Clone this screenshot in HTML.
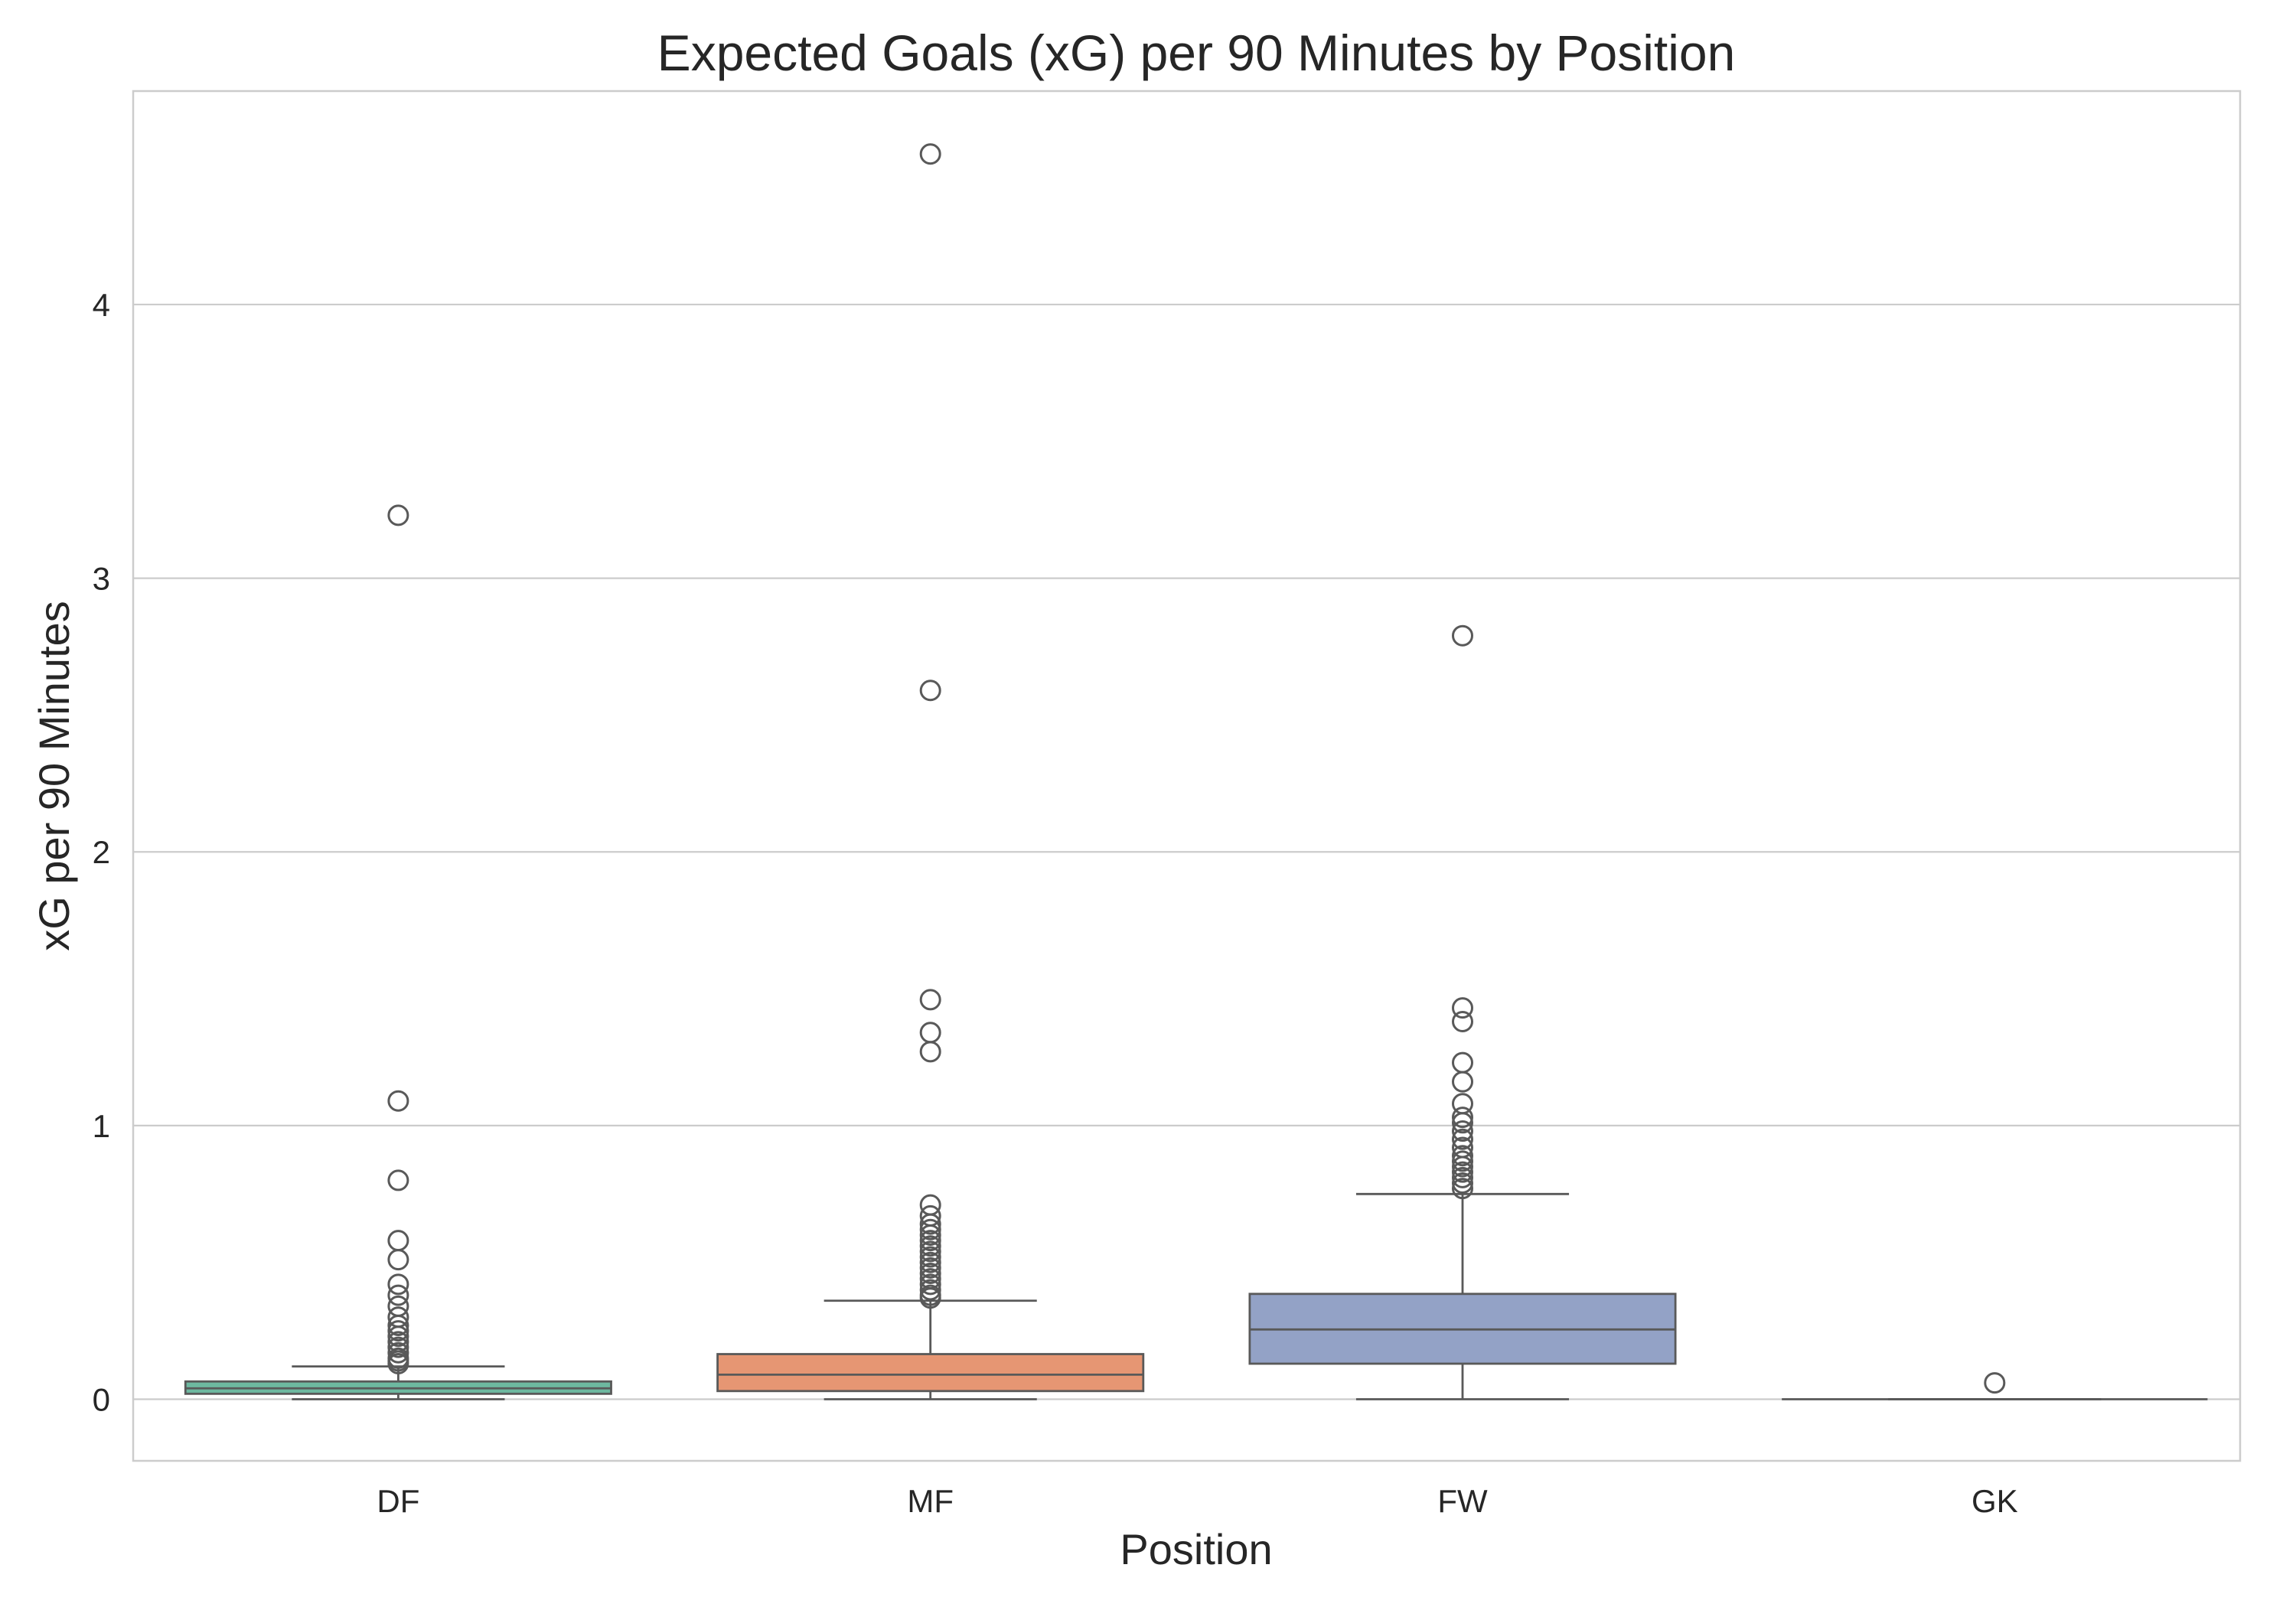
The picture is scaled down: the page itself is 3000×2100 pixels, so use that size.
<!DOCTYPE html>
<html><head><meta charset="utf-8"><style>
html,body{margin:0;padding:0;background:#fff;}
svg{display:block;font-family:"Liberation Sans",Arial,sans-serif;}
</style></head><body>
<svg id="chart" width="3000" height="2100" viewBox="0 0 3000 2100" xmlns="http://www.w3.org/2000/svg">
<rect width="3000" height="2100" fill="#fff"/>
<g id="grid"></g>
<g id="boxes"></g>
<g id="axes"></g>
</svg>
<script>
const categories = ["DF","MF","FW","GK"];
const colors = ["#6db8a0","#e69673","#93a2c6","#d98fb9"];
const q1 = [0.02, 0.03, 0.13, 0];
const medians = [0.04, 0.09, 0.255, 0];
const q3 = [0.065, 0.165, 0.385, 0];
const whiskLow = [0, 0, 0, 0];
const whiskHigh = [0.12, 0.36, 0.75, 0];
const outliersDF = [3.23,1.09,0.80,0.58,0.51,0.42,0.38,0.34,0.30,0.27,0.25,0.23,0.21,0.19,0.17,0.15,0.14,0.13];
const outliersMF = [4.55,2.59,1.46,1.34,1.27,0.71,0.67,0.64,0.62,0.60,0.58,0.56,0.54,0.52,0.50,0.48,0.46,0.44,0.42,0.40,0.38,0.37];
const outliersFW = [2.79,1.43,1.38,1.23,1.16,1.08,1.03,1.01,0.98,0.95,0.92,0.89,0.87,0.85,0.83,0.81,0.79,0.77];
const outliersGK = [0.06];
const yTicks = [0,1,2,3,4];

const outliers = [outliersDF, outliersMF, outliersFW, outliersGK];
const L=174, R=2927, T=119, B=1909;
const yMin=-0.225, yMax=4.78;
const NS="http://www.w3.org/2000/svg";
function y(v){return B-(v-yMin)/(yMax-yMin)*(B-T);}
const band=695.3, x0=520.4;
function x(i){return x0+band*i;}
function mk(tag,attrs,parent){const e=document.createElementNS(NS,tag);for(const k in attrs)e.setAttribute(k,attrs[k]);parent.appendChild(e);return e;}
const grid=document.getElementById('grid'), boxes=document.getElementById('boxes'), axes=document.getElementById('axes');

yTicks.forEach(t=>{
  const l=mk('line',{x1:L,x2:R,y1:y(t),y2:y(t),stroke:'#cccccc','stroke-width':2.2},grid);
  
  
  const tx=mk('text',{x:L-30,y:y(t)+15,'text-anchor':'end','font-size':42,fill:'#262626'},axes);
  tx.textContent=t;
  
  
});
const frame=mk('rect',{x:L,y:T,width:R-L,height:B-T,fill:'none',stroke:'#cccccc','stroke-width':2.5},axes);



const ec='#595959', bw=band*0.8;
categories.forEach((c,i)=>{
  const g=mk('g',{},boxes);
  
  
  const cx=x(i);
  mk('line',{x1:cx,x2:cx,y1:y(q3[i]),y2:y(whiskHigh[i]),stroke:ec,'stroke-width':2.8},g);
  mk('line',{x1:cx,x2:cx,y1:y(q1[i]),y2:y(whiskLow[i]),stroke:ec,'stroke-width':2.8},g);
  mk('line',{x1:cx-bw/4,x2:cx+bw/4,y1:y(whiskHigh[i]),y2:y(whiskHigh[i]),stroke:ec,'stroke-width':2.8},g);
  mk('line',{x1:cx-bw/4,x2:cx+bw/4,y1:y(whiskLow[i]),y2:y(whiskLow[i]),stroke:ec,'stroke-width':2.8},g);
  mk('rect',{x:cx-bw/2,y:y(q3[i]),width:bw,height:Math.max(0,y(q1[i])-y(q3[i])),fill:colors[i],stroke:ec,'stroke-width':2.8},g);
  mk('line',{x1:cx-bw/2,x2:cx+bw/2,y1:y(medians[i]),y2:y(medians[i]),stroke:ec,'stroke-width':2.8},g);
  outliers[i].forEach(v=>{
    const p=mk('circle',{cx:cx,cy:y(v),r:12.5,fill:'none',stroke:ec,'stroke-width':3},g);
    
    
  });
  const tx=mk('text',{x:cx,y:1976,'text-anchor':'middle','font-size':42,fill:'#262626'},axes);
  tx.textContent=c;
  
  
});

const title=mk('text',{x:1563,y:92,'text-anchor':'middle','font-size':66,fill:'#262626'},axes);
title.textContent='Expected Goals (xG) per 90 Minutes by Position';


const xl=mk('text',{x:1563,y:2044,'text-anchor':'middle','font-size':56,fill:'#262626'},axes);
xl.textContent='Position';


const yl=mk('text',{x:0,y:0,'text-anchor':'middle','font-size':56,fill:'#262626',transform:'translate(90,1014) rotate(-90)'},axes);
yl.textContent='xG per 90 Minutes';


</script>
</body></html>
